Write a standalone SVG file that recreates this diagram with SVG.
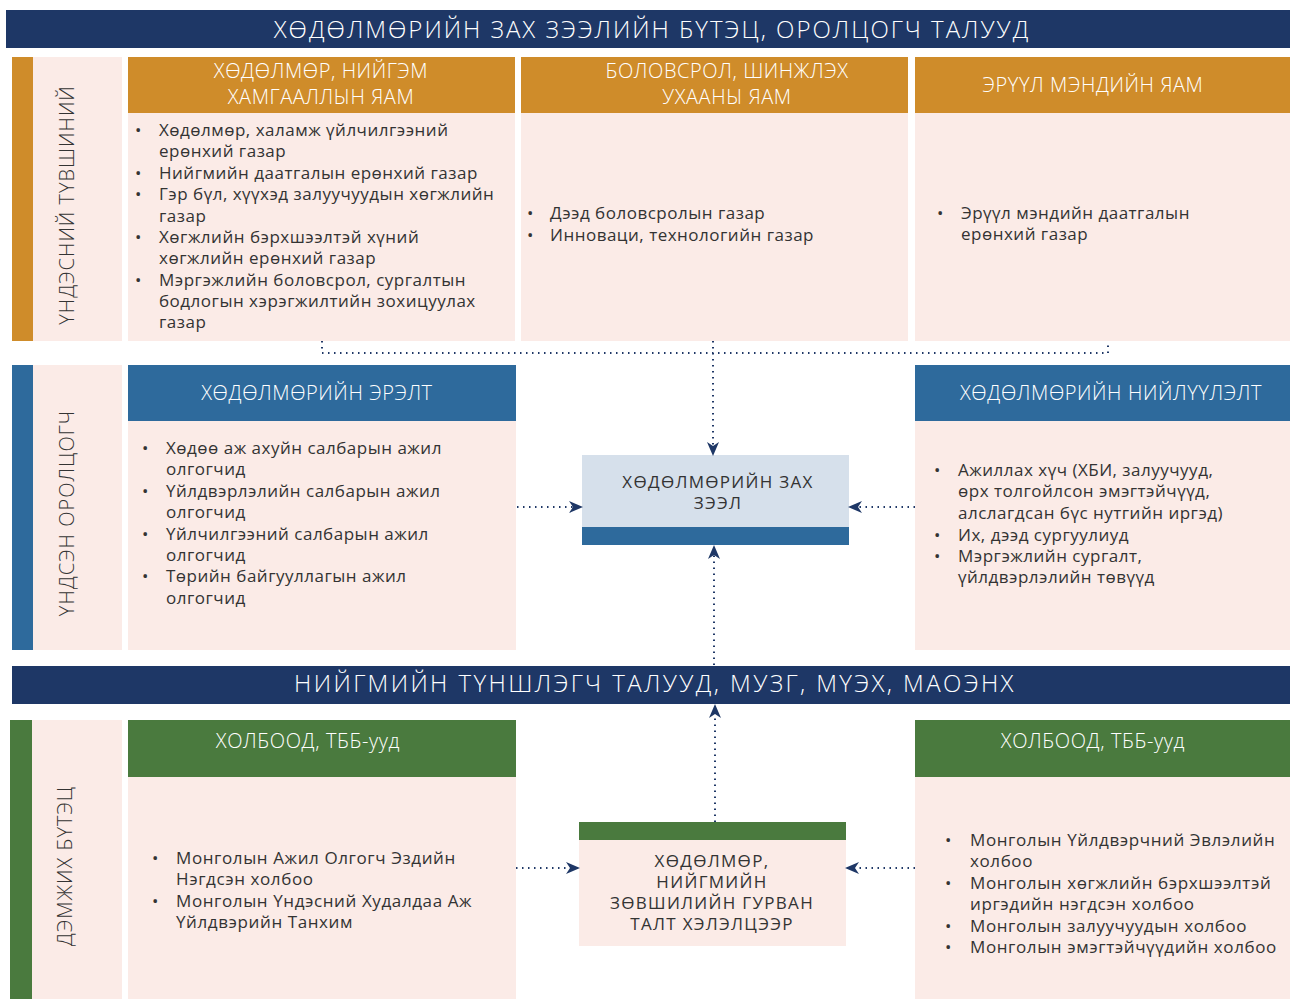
<svg xmlns="http://www.w3.org/2000/svg" width="1290" height="999" viewBox="0 0 1290 999">
<style>
.navy{fill:#1e3766}.org{fill:#cf8c2a}.blu{fill:#2e6a9c}.grn{fill:#4a7a3e}.pnk{fill:#fbebe7}.lb{fill:#d6e0eb}
text{font-family:"Open Sans","Noto Sans","Liberation Sans",sans-serif}
.ttl{fill:#fff;font-size:24px;text-anchor:middle;letter-spacing:2px;font-weight:300}
.ttl2{fill:#fff;font-size:24px;text-anchor:middle;letter-spacing:2.4px;font-weight:300}
.hd{fill:#fff;font-size:20px;text-anchor:middle;letter-spacing:0.6px;font-weight:300}
.bd{fill:#333;font-size:17px;letter-spacing:0.5px}
.bd2{fill:#333;font-size:17px;letter-spacing:0.6px}
.ct{fill:#333;font-size:17px;text-anchor:middle;letter-spacing:1.3px}
.vl{fill:#333;font-size:20px;text-anchor:middle;letter-spacing:1px;font-weight:300}
.dot{fill:none;stroke:#1e3766;stroke-width:2;stroke-dasharray:1.5 4.5}
</style>
<defs>
<marker id="ah" viewBox="0 0 14 12" refX="13" refY="6" markerWidth="14" markerHeight="12" markerUnits="userSpaceOnUse" orient="auto">
<path d="M0,0 L14,6 L0,12 L4,6 Z" fill="#1e3766"/>
</marker>
</defs>

<g id="title">
<rect class="navy" x="6" y="10" width="1284" height="38"/>
<text class="ttl" x="652" y="38">ХӨДӨЛМӨРИЙН ЗАХ ЗЭЭЛИЙН БҮТЭЦ, ОРОЛЦОГЧ ТАЛУУД</text>
</g>

<g id="label-national">
<rect class="org" x="12" y="57" width="21" height="284"/>
<rect class="pnk" x="33" y="57" width="89" height="284"/>
<text class="vl" transform="translate(74,205) rotate(-90)">ҮНДЭСНИЙ ТҮВШИНИЙ</text>
</g>

<g id="ministry-labor">
<rect class="org" x="128" y="57" width="387" height="56"/>
<rect class="pnk" x="128" y="113" width="387" height="228"/>
<text class="hd" x="321" y="78">ХӨДӨЛМӨР, НИЙГЭМ</text>
<text class="hd" x="321" y="104">ХАМГААЛЛЫН ЯАМ</text>
<g class="bd">
<text x="135" y="136">•</text><text x="159" y="136">Хөдөлмөр, халамж үйлчилгээний</text>
<text x="159" y="157">ерөнхий газар</text>
<text x="135" y="179">•</text><text x="159" y="179">Нийгмийн даатгалын ерөнхий газар</text>
<text x="135" y="200">•</text><text x="159" y="200">Гэр бүл, хүүхэд залуучуудын хөгжлийн</text>
<text x="159" y="222">газар</text>
<text x="135" y="243">•</text><text x="159" y="243">Хөгжлийн бэрхшээлтэй хүний</text>
<text x="159" y="264">хөгжлийн ерөнхий газар</text>
<text x="135" y="286">•</text><text x="159" y="286">Мэргэжлийн боловсрол, сургалтын</text>
<text x="159" y="307">бодлогын хэрэгжилтийн зохицуулах</text>
<text x="159" y="328">газар</text>
</g>
</g>

<g id="ministry-education">
<rect class="org" x="521" y="57" width="387" height="56"/>
<rect class="pnk" x="521" y="113" width="387" height="228"/>
<text class="hd" x="727" y="78">БОЛОВСРОЛ, ШИНЖЛЭХ</text>
<text class="hd" x="727" y="104">УХААНЫ ЯАМ</text>
<g class="bd">
<text x="527" y="219">•</text><text x="550" y="219">Дээд боловсролын газар</text>
<text x="527" y="241">•</text><text x="550" y="241">Инноваци, технологийн газар</text>
</g>
</g>

<g id="ministry-health">
<rect class="org" x="915" y="57" width="375" height="56"/>
<rect class="pnk" x="915" y="113" width="375" height="228"/>
<text class="hd" x="1093" y="92">ЭРҮҮЛ МЭНДИЙН ЯАМ</text>
<g class="bd">
<text x="937" y="219">•</text><text x="961" y="219">Эрүүл мэндийн даатгалын</text>
<text x="961" y="240">ерөнхий газар</text>
</g>
</g>

<g id="label-main">
<rect class="blu" x="12" y="365" width="21" height="285"/>
<rect class="pnk" x="33" y="365" width="89" height="285"/>
<text class="vl" transform="translate(74,513) rotate(-90)">ҮНДСЭН ОРОЛЦОГЧ</text>
</g>

<g id="labor-demand">
<rect class="blu" x="128" y="365" width="388" height="56"/>
<rect class="pnk" x="128" y="421" width="388" height="229"/>
<text class="hd" x="317" y="400">ХӨДӨЛМӨРИЙН ЭРЭЛТ</text>
<g class="bd">
<text x="142" y="454">•</text><text x="166" y="454">Хөдөө аж ахуйн салбарын ажил</text>
<text x="166" y="475">олгогчид</text>
<text x="142" y="497">•</text><text x="166" y="497">Үйлдвэрлэлийн салбарын ажил</text>
<text x="166" y="518">олгогчид</text>
<text x="142" y="540">•</text><text x="166" y="540">Үйлчилгээний салбарын ажил</text>
<text x="166" y="561">олгогчид</text>
<text x="142" y="582">•</text><text x="166" y="582">Төрийн байгууллагын ажил</text>
<text x="166" y="604">олгогчид</text>
</g>
</g>

<g id="labor-market">
<rect class="lb" x="582" y="455" width="267" height="72"/>
<rect class="blu" x="582" y="527" width="267" height="18"/>
<text class="ct" x="718" y="488">ХӨДӨЛМӨРИЙН ЗАХ</text>
<text class="ct" x="718" y="509">ЗЭЭЛ</text>
</g>

<g id="labor-supply">
<rect class="blu" x="915" y="365" width="375" height="56"/>
<rect class="pnk" x="915" y="421" width="375" height="229"/>
<text class="hd" x="1111" y="400">ХӨДӨЛМӨРИЙН НИЙЛҮҮЛЭЛТ</text>
<g class="bd">
<text x="934" y="476">•</text><text x="958" y="476">Ажиллах хүч (ХБИ, залуучууд,</text>
<text x="958" y="497">өрх толгойлсон эмэгтэйчүүд,</text>
<text x="958" y="519">алслагдсан бүс нутгийн иргэд)</text>
<text x="934" y="541">•</text><text x="958" y="541">Их, дээд сургуулиуд</text>
<text x="934" y="562">•</text><text x="958" y="562">Мэргэжлийн сургалт,</text>
<text x="958" y="583">үйлдвэрлэлийн төвүүд</text>
</g>
</g>

<g id="social-partners">
<rect class="navy" x="12" y="666" width="1278" height="38"/>
<text class="ttl2" x="655" y="692">НИЙГМИЙН ТҮНШЛЭГЧ ТАЛУУД, МУЗГ, МҮЭХ, МАОЭНХ</text>
</g>

<g id="label-support">
<rect class="grn" x="10" y="720" width="22" height="279"/>
<rect class="pnk" x="32" y="720" width="90" height="279"/>
<text class="vl" transform="translate(72,866) rotate(-90)">ДЭМЖИХ БҮТЭЦ</text>
</g>

<g id="assoc-left">
<rect class="grn" x="128" y="720" width="388" height="57"/>
<rect class="pnk" x="128" y="777" width="388" height="222"/>
<text class="hd" x="308" y="748">ХОЛБООД, ТББ-ууд</text>
<g class="bd2">
<text x="152" y="864">•</text><text x="176" y="864">Монголын Ажил Олгогч Эздийн</text>
<text x="176" y="885">Нэгдсэн холбоо</text>
<text x="152" y="907">•</text><text x="176" y="907">Монголын Үндэсний Худалдаа Аж</text>
<text x="176" y="928">Үйлдвэрийн Танхим</text>
</g>
</g>

<g id="tripartite">
<rect class="grn" x="579" y="822" width="267" height="18"/>
<rect class="pnk" x="579" y="840" width="267" height="106"/>
<text class="ct" x="712" y="867">ХӨДӨЛМӨР,</text>
<text class="ct" x="712" y="888">НИЙГМИЙН</text>
<text class="ct" x="712" y="909">ЗӨВШИЛИЙН ГУРВАН</text>
<text class="ct" x="712" y="930">ТАЛТ ХЭЛЭЛЦЭЭР</text>
</g>

<g id="assoc-right">
<rect class="grn" x="915" y="720" width="375" height="57"/>
<rect class="pnk" x="915" y="777" width="375" height="222"/>
<text class="hd" x="1093" y="748">ХОЛБООД, ТББ-ууд</text>
<g class="bd2">
<text x="945" y="846">•</text><text x="970" y="846">Монголын Үйлдвэрчний Эвлэлийн</text>
<text x="970" y="867">холбоо</text>
<text x="945" y="889">•</text><text x="970" y="889">Монголын хөгжлийн бэрхшээлтэй</text>
<text x="970" y="910">иргэдийн нэгдсэн холбоо</text>
<text x="945" y="932">•</text><text x="970" y="932">Монголын залуучуудын холбоо</text>
<text x="945" y="953">•</text><text x="970" y="953">Монголын эмэгтэйчүүдийн холбоо</text>
</g>
</g>

<g id="connectors">
<path class="dot" d="M322,341 V353 H1108 V341"/>
<path class="dot" d="M713,341 V455" marker-end="url(#ah)"/>
<path class="dot" d="M517,507 H582" marker-end="url(#ah)"/>
<path class="dot" d="M915,507 H849" marker-end="url(#ah)"/>
<path class="dot" d="M714,665 V546" marker-end="url(#ah)"/>
<path class="dot" d="M516,868 H579" marker-end="url(#ah)"/>
<path class="dot" d="M915,868 H846" marker-end="url(#ah)"/>
<path class="dot" d="M715,822 V705" marker-end="url(#ah)"/>
</g>
</svg>
